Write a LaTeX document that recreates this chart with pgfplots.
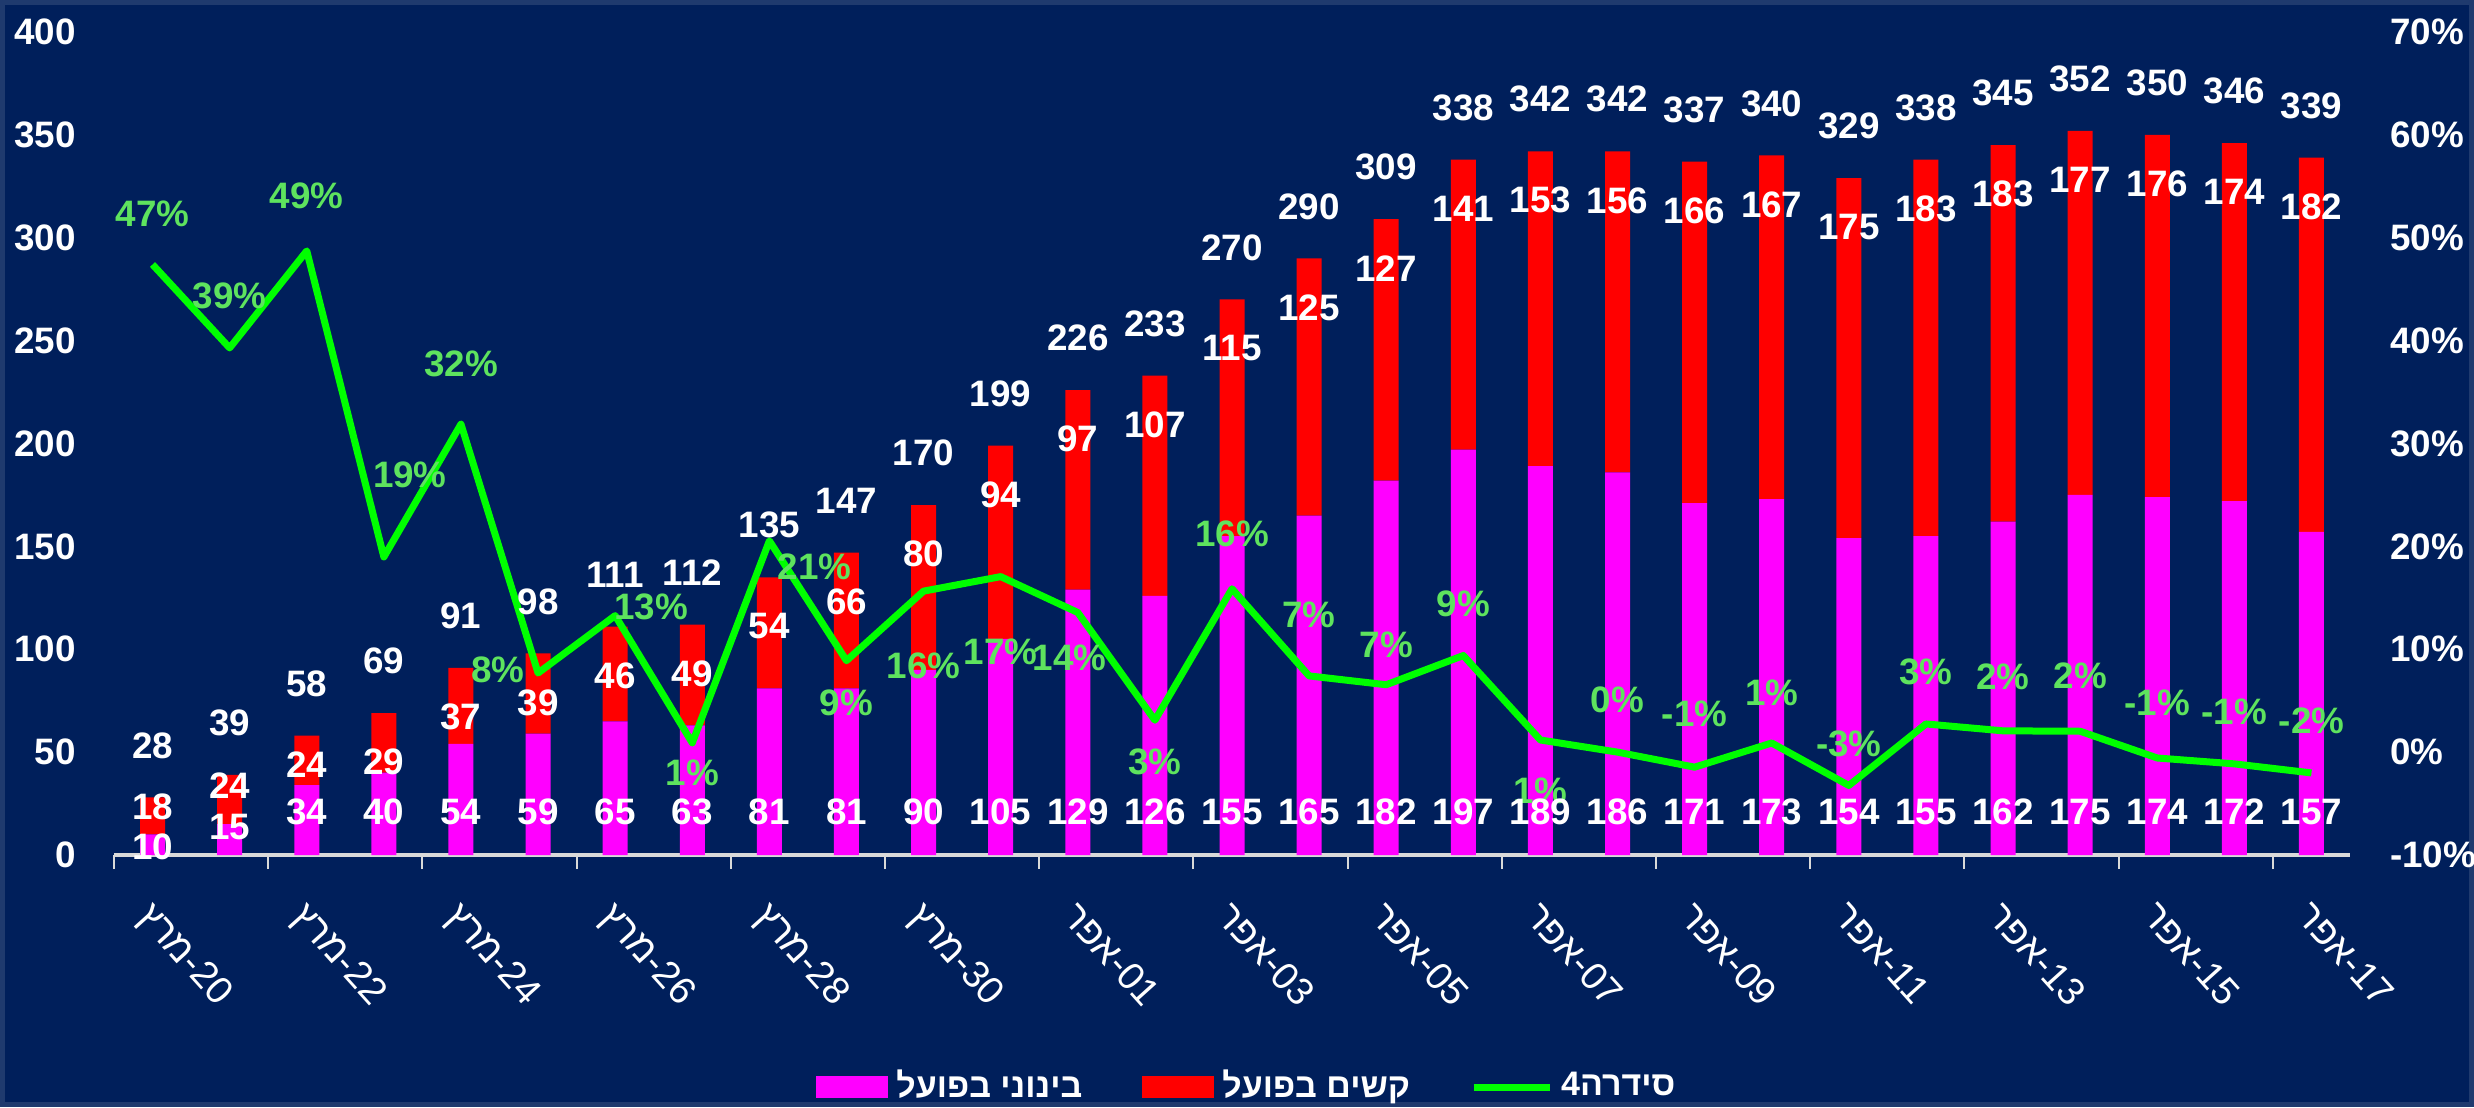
\documentclass[border=0pt]{standalone}
\usepackage{pgfplots}
\pgfplotsset{compat=1.18}
\usepackage{pgfplotstable}
\usepackage{fontspec}
\setmainfont{Liberation Sans}
\newfontfamily\heb[Script=Hebrew]{Liberation Sans}
\TeXXeTstate=1

\definecolor{bg}{HTML}{001F5B}
\definecolor{frame}{HTML}{1F3A6E}
\definecolor{mid}{HTML}{FF00FF}
\definecolor{sev}{HTML}{FF0000}
\definecolor{ln}{HTML}{00FF00}
\definecolor{lbl}{HTML}{5EE35E}
\definecolor{axgray}{HTML}{D9D9D9}

\newcommand{\lab}{\fontsize{9.2}{10}\selectfont\bfseries}
% date label: hebrew month (right to left), then -day
\newcommand{\dl}[2]{{\heb\beginR #1\endR}-#2}

% x: day index (20 Mar = 0), mid/sev: bar segments, tot: total, pct: daily change
% pdx/pdy, mdy, rdy: label offsets in px of the reference
\pgfplotstableread{
x  mid sev tot pct    pdx pdy mdy rdy
0  10  18  28  47.40  0   51  8   -9
1  15  24  39  39.29  0   52  28  -11
2  34  24  58  48.72  0   55  43  -29
3  40  29  69  18.97  26  82  43  -49
4  54  37  91  31.88  0   60  43  -49
5  59  39  98  7.69   -40 3   43  -49
6  65  46  111 13.27  36  9   43  -49
7  63  49  112 0.90   0   -30 43  -49
8  81  54  135 20.54  45  -26 43  -49
9  81  66  147 8.89   0   -42 43  -49
10 90  80  170 15.65  0   -75 43  -49
11 105 94  199 17.06  0   -75 43  -49
12 129 97  226 13.57  -8  -45 43  -49
13 126 107 233 3.10   0   -42 43  -49
14 155 115 270 15.88  0   55  43  -49
15 165 125 290 7.41   0   61  43  -49
16 182 127 309 6.55   0   40  43  -49
17 197 141 338 9.39   0   52  43  -49
18 189 153 342 1.18   0   -51 43  -49
19 186 156 342 0.00   0   52  43  -49
20 171 166 337 -1.46  0   53  43  -49
21 173 167 340 0.89   0   50  43  -49
22 154 175 329 -3.24  0   42  43  -49
23 155 183 338 2.74   0   52  43  -49
24 162 183 345 2.07   0   54  43  -49
25 175 177 352 2.03   0   55  43  -49
26 174 176 350 -0.57  0   55  43  -49
27 172 174 346 -1.14  0   52  43  -49
28 157 182 339 -2.02  0   52  43  -49
}\data

\pgfplotsset{
  base/.style={
    width=559pt, height=205.75pt, scale only axis,
    xmin=-0.5, xmax=28.5, enlargelimits=false,
    /pgf/number format/assume math mode=true,
    clip=false,
  },
  boxleg/.style={legend image code/.code={\fill[##1] (0pt,-2.75pt) rectangle (18pt,2.75pt);}},
  lineleg/.style={legend image code/.code={\draw[##1] (0pt,0pt) -- (19pt,0pt);}},
}

\begin{document}
\begin{tikzpicture}
\fill[bg] (-28.5pt,-63pt) rectangle (590pt,213.75pt);
\draw[frame, line width=1.25pt] (-27.875pt,-62.375pt) rectangle (589.375pt,213.125pt);

% bars
\begin{axis}[base,
    ybar stacked, bar width=6.25pt,
    ymin=0, ymax=400, ytick={0,50,...,400},
    axis x line*=bottom, axis y line*=left,
    y axis line style={draw=none}, ytick style={draw=none},
    x axis line style={axgray, line width=1.2pt},
    xtick={0,2,...,28},
    xticklabels={
      {\dl{מרץ}{20}},{\dl{מרץ}{22}},{\dl{מרץ}{24}},{\dl{מרץ}{26}},{\dl{מרץ}{28}},{\dl{מרץ}{30}},
      {\dl{אפר}{01}},{\dl{אפר}{03}},{\dl{אפר}{05}},{\dl{אפר}{07}},{\dl{אפר}{09}},
      {\dl{אפר}{11}},{\dl{אפר}{13}},{\dl{אפר}{15}},{\dl{אפר}{17}}},
    minor xtick={-0.5,1.5,...,27.5},
    tick align=outside,
    major tick length=0pt, minor tick length=3.5pt,
    minor tick style={axgray, line width=0.5pt},
    tick label style={white},
    yticklabel style={font=\lab},
    yticklabel shift=6pt,
    xticklabel style={font=\fontsize{9.6}{10}\selectfont, rotate=-48, anchor=north west,
      inner sep=0pt, xshift=1pt},
    xticklabel shift=10pt,
    legend style={draw=none, fill=none, text=white,
      font=\heb\bfseries\fontsize{8.5}{9}\selectfont,
      at={(0.508,-0.282)}, anchor=center,
      /tikz/every even column/.append style={column sep=13pt}},
    legend columns=3,
  ]
\addplot[fill=mid, draw=none, boxleg] table[x=x, y=mid] {\data};
\addplot[fill=sev, draw=none, boxleg] table[x=x, y=sev] {\data};
\addlegendimage{ln, line width=1.75pt, lineleg}
\legend{\beginR בינוני בפועל\endR, \beginR קשים בפועל\endR, 4\beginR סידרה\endR}
\end{axis}

% change line, right axis
\begin{axis}[base,
    ymin=-10, ymax=70, ytick={-10,0,...,70},
    axis y line*=right, axis x line=none, xtick=\empty,
    y axis line style={draw=none}, ytick style={draw=none},
    yticklabel={\pgfmathprintnumber{\tick}\%},
    yticklabel style={white, font=\lab},
    yticklabel shift=6.5pt,
  ]
\addplot[ln, line width=1.75pt, mark=none, line join=round,
  nodes near coords={\pgfmathprintnumber[fixed,precision=0]{\pgfplotspointmeta}\%},
  point meta=explicit,
  visualization depends on={\thisrow{pdx} \as \pdx},
  visualization depends on={\thisrow{pdy} \as \pdy},
  nodes near coords style={anchor=center, text=lbl, font=\lab,
    xshift=\pdx*0.25pt, yshift=\pdy*0.25pt}]
  table[x=x, y=pct, meta=pct] {\data};
\end{axis}

% bar value labels
\begin{axis}[base, hide axis, ymin=0, ymax=400]
\addplot[draw=none, mark=none, nodes near coords, point meta=explicit,
  visualization depends on={\thisrow{mdy} \as \mdy},
  nodes near coords style={anchor=center, text=white, font=\lab, yshift=\mdy*0.25pt}]
  table[x=x, y expr=0, meta=mid] {\data};
\addplot[draw=none, mark=none, nodes near coords, point meta=explicit,
  visualization depends on={\thisrow{rdy} \as \rdy},
  nodes near coords style={anchor=center, text=white, font=\lab, yshift=\rdy*0.25pt}]
  table[x=x, y=tot, meta=sev] {\data};
\addplot[draw=none, mark=none, nodes near coords, point meta=explicit,
  nodes near coords style={anchor=center, text=white, font=\lab, yshift=13pt}]
  table[x=x, y=tot, meta=tot] {\data};
\end{axis}

\pgfresetboundingbox
\path[use as bounding box] (-28.5pt,-63pt) rectangle (590pt,213.75pt);
\end{tikzpicture}
\end{document}
